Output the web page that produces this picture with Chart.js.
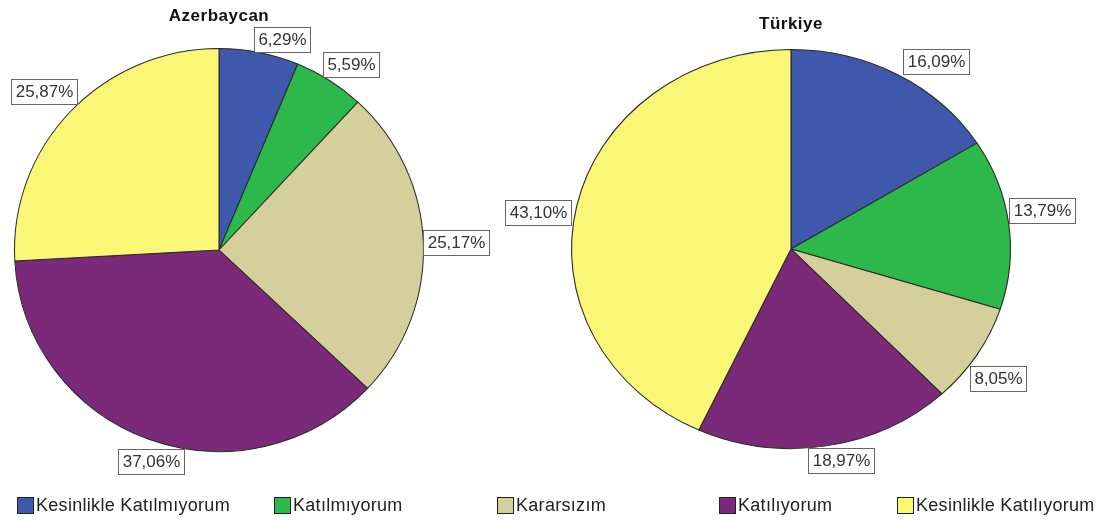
<!DOCTYPE html>
<html><head><meta charset="utf-8">
<script src="https://cdn.jsdelivr.net/npm/chart.js@4/dist/chart.umd.min.js"></script>
<style>
html,body{margin:0;padding:0;background:#fff;}
#wrap{position:relative;width:1104px;height:520px;overflow:hidden;font-family:"Liberation Sans",Arial,sans-serif;}
canvas{position:absolute;left:0;top:0;}
#legend{position:absolute;left:0;top:493px;width:1104px;height:24px;}
.li{position:absolute;top:0;display:flex;align-items:center;font-size:18px;letter-spacing:0.3px;color:#222;height:24px;white-space:nowrap;}
.sw{width:17px;height:17px;border:1.5px solid #222;margin-right:2px;box-sizing:border-box;}
</style></head>
<body>
<div id="wrap">
<canvas id="c1" width="1104" height="520"></canvas>
<canvas id="c2" width="1104" height="520"></canvas>
<div id="legend"></div>
</div>
<script>
// ---- data ----
const categories = ["Kesinlikle Katılmıyorum","Katılmıyorum","Kararsızım","Katılıyorum","Kesinlikle Katılıyorum"];
const azerbaycanValues = [6.29, 5.59, 25.17, 37.06, 25.87];
const turkiyeValues = [16.09, 13.79, 8.05, 18.97, 43.10];
const chartTitles = ["Azerbaycan", "Türkiye"];

// ---- style ----
const colors = ["#3E58AC","#2DB84B","#D5CF9B","#7B2A7A","#FAF676"];
const legendLeft = [17, 274, 497, 719, 897];
const azLabelNudge = [[6,0],[-7,-3],[0,0],[35,10],[7,-7]];
const trLabelNudge = [[6,0],[0,-9],[-7,11],[-1,2],[-6,14]];

const fmt = v => v.toFixed(2).replace('.', ',') + '%';

function makePie(canvasId, values, title, padding, sx, titleY, nudge) {
  const stretch = {
    id: 'stretch',
    beforeDatasetsDraw(chart) {
      const a = chart.getDatasetMeta(0).data[0];
      const ctx = chart.ctx;
      ctx.save();
      ctx.translate(a.x, 0); ctx.scale(sx, 1); ctx.translate(-a.x, 0);
    },
    afterDatasetsDraw(chart) { chart.ctx.restore(); }
  };
  const decor = {
    id: 'decor',
    afterDraw(chart) {
      const ctx = chart.ctx;
      const meta = chart.getDatasetMeta(0);
      const a0 = meta.data[0];
      ctx.save();
      ctx.font = 'bold 17px "Liberation Sans", Arial, sans-serif';
      ctx.letterSpacing = '0.5px';
      ctx.fillStyle = '#111';
      ctx.textAlign = 'center'; ctx.textBaseline = 'middle';
      ctx.fillText(title, a0.x, titleY);
      ctx.font = '17px "Liberation Sans", Arial, sans-serif';
      ctx.letterSpacing = '0px';
      const clamp = v => Math.max(-1, Math.min(1, v));
      meta.data.forEach((arc, i) => {
        const p = arc.getProps(['x','y','startAngle','endAngle','outerRadius'], true);
        const mid = (p.startAngle + p.endAngle) / 2;
        const ux = Math.cos(mid), uy = Math.sin(mid);
        const ex = p.x + ux * p.outerRadius * sx;
        const ey = p.y + uy * p.outerRadius;
        const txt = fmt(values[i]);
        const w = Math.round(ctx.measureText(txt).width) + 8;
        const h = 25;
        const cx = ex + (w / 2) * clamp(ux * 3) + nudge[i][0];
        const cy = ey + (h / 2) * clamp(uy * 3) + nudge[i][1];
        const bx = Math.round(cx - w / 2), by = Math.round(cy - h / 2);
        ctx.fillStyle = '#fff';
        ctx.fillRect(bx, by, w, h);
        ctx.strokeStyle = '#666'; ctx.lineWidth = 1;
        ctx.strokeRect(bx + 0.5, by + 0.5, w, h);
        ctx.fillStyle = '#333';
        ctx.textAlign = 'center'; ctx.textBaseline = 'middle';
        ctx.fillText(txt, bx + w / 2 + 0.5, by + h / 2 + 1);
      });
      ctx.restore();
    }
  };
  return new Chart(document.getElementById(canvasId), {
    type: 'pie',
    data: { labels: categories, datasets: [{ data: values, backgroundColor: colors, borderColor: '#2a2a2a', borderWidth: 1 }] },
    options: {
      responsive: false, animation: false,
      layout: { padding: padding },
      plugins: { legend: { display: false }, tooltip: { enabled: false } }
    },
    plugins: [stretch, decor]
  });
}

makePie('c1', azerbaycanValues, chartTitles[0], {left: 14, right: 680, top: 48, bottom: 68}, 205 / 202, 16, azLabelNudge);
makePie('c2', turkiyeValues, chartTitles[1], {left: 591, right: 113, top: 49, bottom: 71}, 1.1, 24, trLabelNudge);

const lg = document.getElementById('legend');
categories.forEach((c, i) => {
  const d = document.createElement('div');
  d.className = 'li';
  d.style.left = legendLeft[i] + 'px';
  const s = document.createElement('span');
  s.className = 'sw'; s.style.background = colors[i];
  d.appendChild(s);
  d.appendChild(document.createTextNode(c));
  lg.appendChild(d);
});
</script>
</body></html>
